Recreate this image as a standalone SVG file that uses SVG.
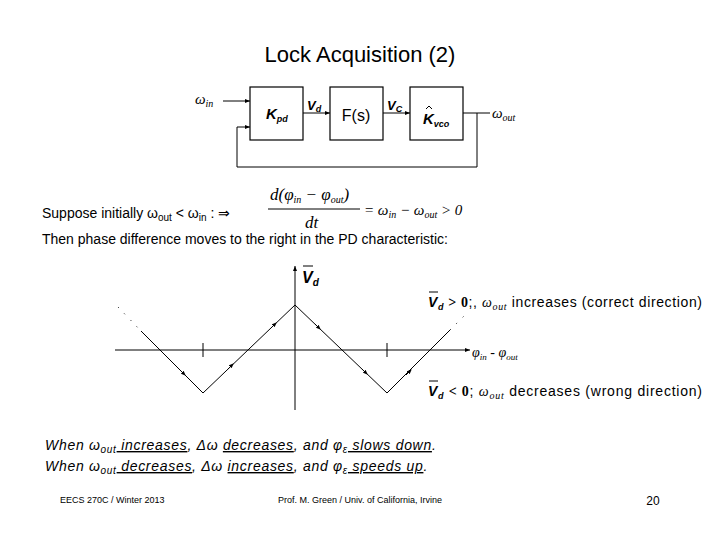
<svg xmlns="http://www.w3.org/2000/svg" width="720" height="540" viewBox="0 0 720 540">
<style>
.t{font-family:"Liberation Sans",Arial,sans-serif;fill:#000}
.m{font-family:"Liberation Serif",serif;font-style:italic;fill:#000}
.bi{font-family:"Liberation Sans",Arial,sans-serif;font-style:italic;font-weight:bold;fill:#000}
.box{fill:#fff;stroke:#000;stroke-width:1.2}
.ln{fill:none;stroke:#000;stroke-width:1}
</style>
<defs>
<marker id="a" viewBox="0 0 10 10" refX="10" refY="5" markerWidth="5" markerHeight="5" orient="auto"><path d="M0,1L10,5L0,9z" fill="#000"/></marker>
<marker id="m" viewBox="0 0 10 10" refX="5" refY="5" markerWidth="5" markerHeight="5" orient="auto"><path d="M0,1L10,5L0,9z" fill="#000"/></marker>
</defs>
<rect width="720" height="540" fill="#fff"/>
<text class="t" x="360" y="62" font-size="22" text-anchor="middle">Lock Acquisition (2)</text>
<g id="connectors">
<line class="ln" x1="223" y1="101" x2="250" y2="101" marker-end="url(#a)"/>
<line class="ln" x1="303" y1="113" x2="330" y2="113" stroke-width="2" marker-end="url(#a)"/>
<line class="ln" x1="383" y1="113" x2="410" y2="113" stroke-width="2" marker-end="url(#a)"/>
<line class="ln" x1="463" y1="113" x2="490" y2="113" stroke-width="2"/>
<polyline class="ln" points="477,113 477,167 237,167 237,127 250,127" marker-end="url(#a)"/>
</g>
<g id="kpd"><rect class="box" x="250" y="87" width="53" height="53"/><text class="bi" x="266" y="119" font-size="15">K<tspan font-size="9" dy="3">pd</tspan></text></g>
<g id="fs"><rect class="box" x="330" y="87" width="53" height="53"/><text class="t" x="356" y="121" font-size="16" text-anchor="middle">F(s)</text></g>
<g id="kvco"><rect class="box" x="410" y="87" width="53" height="53"/><text class="bi" x="423" y="124" font-size="15">K<tspan font-size="9" dy="3">vco</tspan></text><line class="ln" x1="426" y1="109" x2="429" y2="106"/><line class="ln" x1="429" y1="106" x2="432" y2="109"/></g>
<text class="m" x="195" y="104" font-size="15">ω<tspan font-size="10" dy="3">in</tspan></text>
<text class="bi" x="307" y="110" font-size="13">V<tspan font-size="9" dy="2">d</tspan></text>
<text class="bi" x="387" y="110" font-size="13">V<tspan font-size="9" dy="2">C</tspan></text>
<text class="m" x="492" y="118" font-size="15">ω<tspan font-size="10" dy="3">out</tspan></text>
<text class="t" x="42" y="218" font-size="14">Suppose initially ω<tspan font-size="10" dy="3">out</tspan><tspan dy="-3"> &lt; ω</tspan><tspan font-size="10" dy="3">in</tspan><tspan dy="-3"> :  ⇒</tspan></text>
<text class="m" x="270" y="200" font-size="17">d(φ<tspan font-size="10" dy="3">in</tspan><tspan dy="-3"> − φ</tspan><tspan font-size="10" dy="3">out</tspan><tspan dy="-3">)</tspan></text>
<line class="ln" x1="268" y1="209" x2="360" y2="209"/>
<text class="m" x="305" y="228" font-size="17">dt</text>
<text class="m" x="364" y="215" font-size="15">= ω<tspan font-size="10" dy="3">in</tspan><tspan dy="-3"> − ω</tspan><tspan font-size="10" dy="3">out</tspan><tspan dy="-3"> &gt; 0</tspan></text>
<text class="t" x="42" y="244" font-size="14">Then phase difference moves to the right in the PD characteristic:</text>
<g id="plot">
<line class="ln" x1="115" y1="350" x2="470" y2="350" stroke-width="2" marker-end="url(#a)"/>
<line class="ln" x1="295" y1="410" x2="295" y2="266" marker-end="url(#a)"/>
<line class="ln" x1="203" y1="343" x2="203" y2="357" stroke-width="1.5"/>
<line class="ln" x1="387" y1="343" x2="387" y2="357" stroke-width="1.5"/>
<polyline class="ln" points="141,331 203,393 295,305 387,393 450,330"/>
<polyline class="ln" points="118,307 141,331" stroke-dasharray="1,8"/>
<polyline class="ln" points="450,330 466,314" stroke-dasharray="1,8"/>
<line class="ln" x1="180" y1="370" x2="184" y2="374" marker-end="url(#m)"/>
<line class="ln" x1="228" y1="369" x2="232" y2="365" marker-end="url(#m)"/>
<line class="ln" x1="271" y1="328" x2="275" y2="324" marker-end="url(#m)"/>
<line class="ln" x1="315" y1="324" x2="319" y2="328" marker-end="url(#m)"/>
<line class="ln" x1="362" y1="369" x2="366" y2="373" marker-end="url(#m)"/>
<line class="ln" x1="406" y1="375" x2="410" y2="371" marker-end="url(#m)"/>
</g>
<text class="bi" x="302" y="283" font-size="16">V<tspan font-size="10" dy="3">d</tspan></text>
<line class="ln" x1="303" y1="266" x2="313" y2="266"/>
<text class="t" x="428" y="307" font-size="14" textLength="274"><tspan class="bi">V</tspan><tspan class="bi" font-size="9" dy="3">d</tspan><tspan dy="-3" font-family="Liberation Serif" font-weight="bold"> &gt; 0</tspan>;, <tspan class="m">ω</tspan><tspan class="m" font-size="10" dy="3">out</tspan><tspan dy="-3"> increases (correct direction)</tspan></text>
<line class="ln" x1="429" y1="292" x2="438" y2="292"/>
<text class="m" x="472" y="357" font-size="14">φ<tspan font-size="9" dy="3">in</tspan><tspan dy="-3"> - φ</tspan><tspan font-size="9" dy="3">out</tspan></text>
<text class="t" x="428" y="396" font-size="14" textLength="274"><tspan class="bi">V</tspan><tspan class="bi" font-size="9" dy="3">d</tspan><tspan dy="-3" font-family="Liberation Serif" font-weight="bold"> &lt; 0</tspan>; <tspan class="m">ω</tspan><tspan class="m" font-size="10" dy="3">out</tspan><tspan dy="-3"> decreases (wrong direction)</tspan></text>
<line class="ln" x1="429" y1="381" x2="438" y2="381"/>
<text class="t" x="45" y="450" font-size="14" font-style="italic" letter-spacing="0.7">When ω<tspan font-size="10" dy="3">out</tspan><tspan dy="-3" text-decoration="underline"> increases</tspan>,  Δω <tspan text-decoration="underline">decreases</tspan>, and φ<tspan font-size="10" dy="3">ε</tspan><tspan dy="-3" text-decoration="underline"> slows down</tspan>.</text>
<text class="t" x="45" y="471" font-size="14" font-style="italic" letter-spacing="0.7">When ω<tspan font-size="10" dy="3">out</tspan><tspan dy="-3" text-decoration="underline"> decreases</tspan>,  Δω <tspan text-decoration="underline">increases</tspan>,  and φ<tspan font-size="10" dy="3">ε</tspan><tspan dy="-3" text-decoration="underline"> speeds up</tspan>.</text>
<text class="t" x="60" y="503" font-size="9">EECS 270C / Winter 2013</text>
<text class="t" x="360" y="503" font-size="9" text-anchor="middle">Prof. M. Green / Univ. of California, Irvine</text>
<text class="t" x="653" y="505" font-size="12" text-anchor="middle">20</text>
</svg>
